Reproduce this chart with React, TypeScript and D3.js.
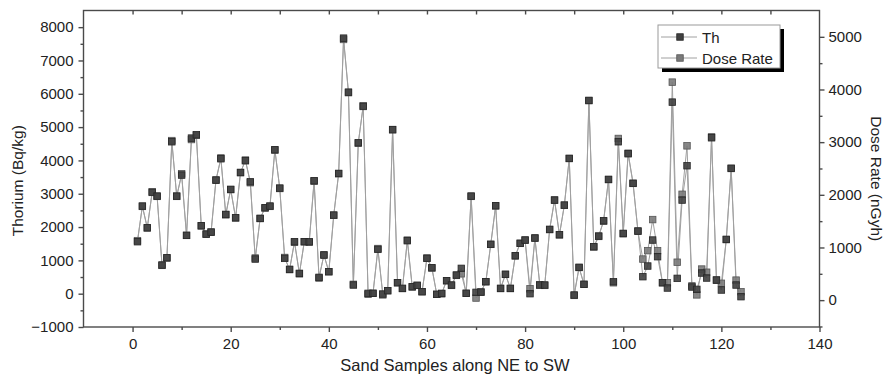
import React, { useEffect, useRef } from 'react';
import * as d3 from 'd3';

// Th activity per sample (Bq/kg), samples 1..124
const thorium = [
  1560, 2630, 1980, 3040, 2930, 860, 1080, 4560, 2930, 3560,
  1750, 4670, 4770, 2040, 1790, 1850, 3410, 4050, 2380, 3130,
  2280, 3640, 3990, 3360, 1040, 2260, 2580, 2630, 4320, 3170,
  1060, 730, 1560, 610, 1560, 1560, 3390, 490, 1160, 660,
  2360, 3610, 7670, 6050, 260, 4530, 5620, 10, 10, 1330,
  -10, 90, 4920, 330, 160, 1590, 210, 250, 60, 1060,
  780, -20, 10, 390, 260, 560, 760, 10, 2930, 40,
  50, 360, 1480, 2640, 160, 580, 160, 1140, 1510, 1610,
  0, 1670, 260, 260, 1930, 2810, 1770, 2660, 4060, -40,
  790, 280, 5800, 1410, 1730, 2190, 3430, 360, 4560, 1810,
  4200, 3310, 1880, 510, 830, 1610, 1110, 330, 170, 5750,
  460, 2810, 3840, 200, 130, 620, 470, 4680, 410, 110,
  1630, 3765, 260, -90
];

// Dose rate per sample (nGy/h)
const doseRate = [
  1130, 1780, 1370, 2060, 1970, 660, 800, 3030, 1970, 2400,
  1230, 3050, 3130, 1410, 1250, 1290, 2280, 2700, 1620, 2100,
  1560, 2420, 2660, 2230, 800, 1550, 1750, 1780, 2850, 2120,
  810, 580, 1100, 500, 1110, 1100, 2260, 420, 860, 540,
  1610, 2400, 4950, 3940, 300, 2980, 3690, 110, 130, 980,
  100, 180, 3240, 330, 220, 1140, 250, 280, 160, 800,
  610, 110, 120, 370, 280, 470, 500, 130, 1970, 40,
  150, 350, 1060, 1790, 220, 490, 220, 840, 1080, 1140,
  215, 1180, 290, 280, 1340, 1900, 1240, 1800, 2690, 90,
  620, 300, 3790, 1010, 1210, 1500, 2290, 330, 3070, 1260,
  2790, 2220, 1310, 780, 940, 1530, 940, 330, 330, 4140,
  720, 2010, 2930, 270, 100, 590, 530, 3100, 380, 320,
  1150, 2500, 380, 160
];

const xTicks = [0, 20, 40, 60, 80, 100, 120, 140];
const xMinorTicks = [10, 30, 50, 70, 90, 110, 130];
const thTicks = [-1000, 0, 1000, 2000, 3000, 4000, 5000, 6000, 7000, 8000];
const thMinorTicks = [-500, 500, 1500, 2500, 3500, 4500, 5500, 6500, 7500];
const doseTicks = [0, 1000, 2000, 3000, 4000, 5000];
const doseMinorTicks = [-500, 500, 1500, 2500, 3500, 4500];

const seriesNames = ['Th', 'Dose Rate'];

const W = 887;
const H = 379;
const FONT = '"Liberation Sans", Arial, Helvetica, sans-serif';

const App = () => {
  const svgRef = useRef<SVGSVGElement>(null);

  useEffect(() => {
    if (!svgRef.current) return;
    const svg = d3.select(svgRef.current);
    svg.selectAll('*').remove();

    const left = 83.5, right = 819.5, top = 10.5, bottom = 327;

    const x = d3.scaleLinear().domain([-10, 140]).range([left, right]);
    const yL = d3.scaleLinear().domain([-1000, 8500]).range([bottom, top]);
    const yR = d3.scaleLinear().domain([-510, 5500]).range([bottom, top]);

    const axisColor = '#4a4a4a';
    const textColor = '#222';

    svg.append('rect')
      .attr('width', W).attr('height', H).attr('fill', '#fff');

    // frame
    svg.append('rect')
      .attr('x', left).attr('y', top)
      .attr('width', right - left).attr('height', bottom - top)
      .attr('fill', 'none')
      .attr('stroke', axisColor)
      .attr('stroke-width', 1.4);

    const styleAxis = (g: any) => {
      g.select('.domain').remove();
      g.selectAll('line').attr('stroke', axisColor).attr('stroke-width', 1.4);
      g.selectAll('text')
        .attr('fill', textColor)
        .style('font-family', FONT)
        .style('font-size', '15px');
    };

    // left axis
    svg.append('g')
      .attr('transform', `translate(${left},0)`)
      .call(d3.axisLeft(yL).tickValues(thTicks).tickSize(5).tickPadding(5).tickFormat(d3.format('d')))
      .call(styleAxis);
    svg.append('g')
      .attr('transform', `translate(${left},0)`)
      .call(d3.axisLeft(yL).tickValues(thMinorTicks).tickSize(3).tickFormat(() => ''))
      .call(styleAxis);

    // right axis
    svg.append('g')
      .attr('transform', `translate(${right},0)`)
      .call(d3.axisRight(yR).tickValues(doseTicks).tickSize(5).tickPadding(4).tickFormat(d3.format('d')))
      .call(styleAxis);
    svg.append('g')
      .attr('transform', `translate(${right},0)`)
      .call(d3.axisRight(yR).tickValues(doseMinorTicks).tickSize(3).tickFormat(() => ''))
      .call(styleAxis);

    // bottom axis
    svg.append('g')
      .attr('transform', `translate(0,${bottom})`)
      .call(d3.axisBottom(x).tickValues(xTicks).tickSize(5).tickPadding(6).tickFormat(d3.format('d')))
      .call(styleAxis);
    svg.append('g')
      .attr('transform', `translate(0,${bottom})`)
      .call(d3.axisBottom(x).tickValues(xMinorTicks).tickSize(3).tickFormat(() => ''))
      .call(styleAxis);

    // top axis (inward ticks)
    svg.append('g')
      .attr('transform', `translate(0,${top})`)
      .call(d3.axisBottom(x).tickValues([...xTicks.slice(0, -1), ...xMinorTicks]).tickSize(4).tickFormat(() => ''))
      .call(styleAxis);

    // axis titles
    svg.append('text')
      .attr('x', 455)
      .attr('y', 371)
      .attr('text-anchor', 'middle')
      .attr('fill', textColor)
      .style('font-family', FONT)
      .style('font-size', '16.5px')
      .text('Sand Samples along NE to SW');

    svg.append('text')
      .attr('transform', `translate(23,${(top + bottom) / 2 + 12}) rotate(-90)`)
      .attr('text-anchor', 'middle')
      .attr('fill', textColor)
      .style('font-family', FONT)
      .style('font-size', '15.5px')
      .text('Thorium (Bq/kg)');

    svg.append('text')
      .attr('transform', `translate(871,${(top + bottom) / 2 + 10}) rotate(90)`)
      .attr('text-anchor', 'middle')
      .attr('fill', textColor)
      .style('font-family', FONT)
      .style('font-size', '15.5px')
      .text('Dose Rate (nGyh)');

    const lineColor = '#a0a0a0';
    const sq = 6.5;

    const series = [
      { values: doseRate, y: yR, fill: '#7a7a7a', stroke: '#555' },
      { values: thorium, y: yL, fill: '#404040', stroke: '#262626' },
    ];

    series.forEach(s => {
      const line = d3.line<number>()
        .x((_, i) => x(i + 1))
        .y(d => s.y(d));
      svg.append('path')
        .datum(s.values)
        .attr('d', line)
        .attr('fill', 'none')
        .attr('stroke', lineColor)
        .attr('stroke-width', 1);
    });

    series.forEach(s => {
      svg.append('g')
        .selectAll('rect')
        .data(s.values)
        .enter()
        .append('rect')
        .attr('x', (_, i) => x(i + 1) - sq / 2)
        .attr('y', d => s.y(d) - sq / 2)
        .attr('width', sq)
        .attr('height', sq)
        .attr('fill', s.fill)
        .attr('stroke', s.stroke)
        .attr('stroke-width', 0.8)
        .attr('fill-opacity', 0.9);
    });

    // legend
    const lg = svg.append('g').attr('transform', 'translate(658,25)');
    lg.append('rect')
      .attr('x', 4).attr('y', 4).attr('width', 122).attr('height', 43)
      .attr('fill', '#000');
    lg.append('rect')
      .attr('x', 0).attr('y', 0).attr('width', 122).attr('height', 43)
      .attr('fill', '#fff')
      .attr('stroke', '#9a9a9a')
      .attr('stroke-width', 1);

    const legendStyles = [
      { fill: '#404040', stroke: '#262626' },
      { fill: '#7a7a7a', stroke: '#555' },
    ];
    seriesNames.forEach((name, i) => {
      const cy = 12 + i * 21;
      lg.append('line')
        .attr('x1', 3).attr('x2', 39).attr('y1', cy).attr('y2', cy)
        .attr('stroke', lineColor).attr('stroke-width', 1);
      lg.append('rect')
        .attr('x', 22 - sq / 2).attr('y', cy - sq / 2)
        .attr('width', sq).attr('height', sq)
        .attr('fill', legendStyles[i].fill)
        .attr('stroke', legendStyles[i].stroke)
        .attr('stroke-width', 0.8);
      lg.append('text')
        .attr('x', 44).attr('y', cy + 5.5)
        .attr('fill', textColor)
        .style('font-family', FONT)
        .style('font-size', '15px')
        .text(name);
    });
  }, []);

  return (
    <div style={{ position: 'absolute', left: 0, top: 0 }}>
      <svg ref={svgRef} width={W} height={H} style={{ display: 'block' }}></svg>
    </div>
  );
};

export default App;
